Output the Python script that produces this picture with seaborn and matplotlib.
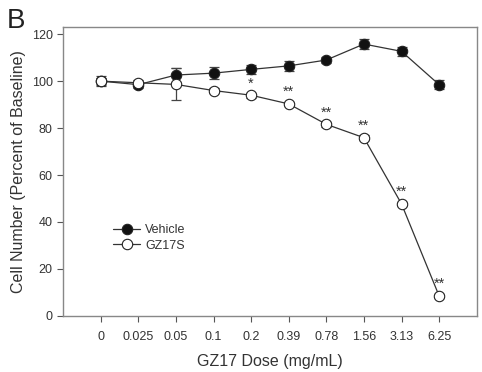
import matplotlib
matplotlib.use("Agg")
from matplotlib import pyplot as plt
import seaborn as sns
import numpy as np
import pandas as pd

doses = ["0", "0.025", "0.05", "0.1", "0.2", "0.39", "0.78", "1.56", "3.13", "6.25"]
vehicle = [100.0, 98.5, 102.6, 103.4, 105.0, 106.5, 109.0, 115.8, 112.7, 98.5]
vehicle_err = [1.5, 1.5, 2.8, 2.5, 2.0, 2.0, 1.2, 2.0, 2.0, 2.0]
gz17s = [100.0, 99.3, 98.6, 96.0, 94.0, 90.3, 81.6, 75.9, 47.7, 8.5]
gz17s_err = [2.0, 1.2, 6.8, 1.0, 1.0, 1.0, 1.0, 1.0, 1.0, 1.0]
stars = ["", "", "", "", "*", "**", "**", "**", "**", "**"]

sns.set_style("ticks")
plt.rcParams["font.family"] = ["Liberation Sans", "DejaVu Sans"]

pos = np.arange(len(doses))
df = pd.DataFrame({
    "pos": np.concatenate([pos, pos]),
    "value": vehicle + gz17s,
    "group": ["Vehicle"] * len(doses) + ["GZ17S"] * len(doses),
})

fig, ax = plt.subplots(figsize=(4.82, 3.72), dpi=100)
fig.subplots_adjust(left=0.131, right=0.989, top=0.927, bottom=0.151)

ax.errorbar(pos, vehicle, yerr=vehicle_err, fmt="none", ecolor="#444444",
            elinewidth=0.9, capsize=3.5, capthick=0.9, zorder=2)
ax.errorbar(pos, gz17s, yerr=gz17s_err, fmt="none", ecolor="#444444",
            elinewidth=0.9, capsize=3.5, capthick=0.9, zorder=2)

sns.lineplot(data=df[df.group == "Vehicle"], x="pos", y="value", ax=ax,
             color="#333333", linewidth=0.9, marker="o", markersize=7.5,
             markerfacecolor="#111111", markeredgecolor="#222222",
             markeredgewidth=0.8, sort=False, label="Vehicle", zorder=3)
sns.lineplot(data=df[df.group == "GZ17S"], x="pos", y="value", ax=ax,
             color="#333333", linewidth=0.9, marker="o", markersize=7.5,
             markerfacecolor="white", markeredgecolor="#222222",
             markeredgewidth=0.8, sort=False, label="GZ17S", zorder=4)

for p, v, s in zip(pos, gz17s, stars):
    if s:
        ax.text(p, v + 2.0, s, ha="center", va="bottom", fontsize=10.5, color="#333333")

ax.set_xlim(-1, 10)
ax.set_ylim(0, 123)
ax.set_xticks(pos)
ax.set_xticklabels(doses)
ax.set_yticks(range(0, 121, 20))
ax.tick_params(axis="both", labelsize=9, colors="#555555", labelcolor="#333333",
               length=4, width=0.8)
ax.tick_params(axis="x", pad=7)
for sp in ax.spines.values():
    sp.set_color("#888888")
    sp.set_linewidth(1.0)

ax.set_xlabel("GZ17 Dose (mg/mL)", fontsize=11.5, color="#333333", labelpad=8)
ax.set_ylabel("Cell Number (Percent of Baseline)", fontsize=11.5, color="#333333")

leg = ax.legend(loc="upper left", bbox_to_anchor=(0.105, 0.34), frameon=False,
                fontsize=9, handlelength=2.2, handletextpad=0.4, labelspacing=0.3,
                borderpad=0)
for t in leg.get_texts():
    t.set_color("#333333")

fig.text(0.015, 0.925, "B", fontsize=20, color="#222222")

fig.savefig("out.png", dpi=100)
